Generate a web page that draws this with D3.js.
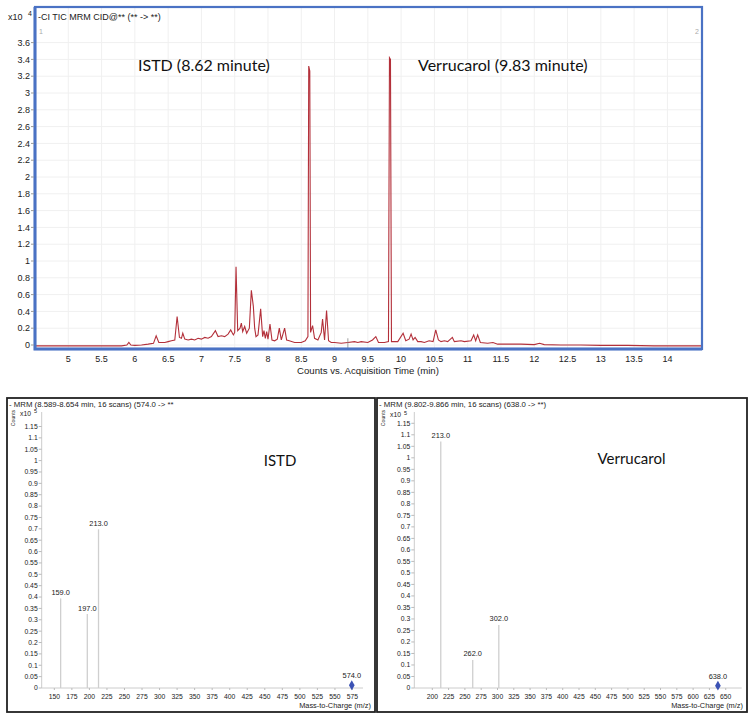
<!DOCTYPE html>
<html>
<head>
<meta charset="utf-8">
<script src="https://cdn.jsdelivr.net/npm/d3@7"></script>
<style>
  body { margin: 0; background: #fff; }
  text { font-family: "Liberation Sans", Arial, sans-serif; fill: #222; }
  .note { font-family: Lato, "Open Sans", sans-serif; fill: #111; }
</style>
</head>
<body>
<div id="chart"></div>
<script>
// TIC chromatogram, counts in x10^4
const ticTrace = [
  [4.50, -0.01], [5.80, -0.01], [5.88, 0.0], [5.91, 0.03], [5.94, 0.0], [6.00, -0.005],
  [6.10, 0.0], [6.20, 0.01], [6.28, 0.02], [6.32, 0.11], [6.36, 0.03], [6.45, 0.03],
  [6.50, 0.04], [6.55, 0.05], [6.60, 0.06], [6.635, 0.34], [6.67, 0.09], [6.70, 0.08],
  [6.72, 0.14], [6.75, 0.07], [6.80, 0.06], [6.85, 0.07], [6.90, 0.06], [6.95, 0.08],
  [7.00, 0.07], [7.05, 0.09], [7.10, 0.08], [7.15, 0.10], [7.21, 0.17], [7.25, 0.10],
  [7.30, 0.11], [7.35, 0.10], [7.40, 0.13], [7.44, 0.18], [7.48, 0.12], [7.50, 0.15],
  [7.52, 0.93], [7.545, 0.17], [7.58, 0.20], [7.60, 0.26], [7.62, 0.16], [7.65, 0.22],
  [7.68, 0.14], [7.72, 0.20], [7.75, 0.65], [7.78, 0.46], [7.80, 0.20], [7.82, 0.10],
  [7.85, 0.12], [7.89, 0.43], [7.92, 0.10], [7.94, 0.17], [7.96, 0.08], [7.98, 0.16],
  [8.00, 0.07], [8.03, 0.25], [8.06, 0.06], [8.10, 0.05], [8.14, 0.07], [8.17, 0.20],
  [8.20, 0.06], [8.25, 0.20], [8.28, 0.06], [8.32, 0.05], [8.40, 0.03], [8.50, 0.03],
  [8.56, 0.05], [8.60, 0.10], [8.612, 3.32], [8.628, 3.26], [8.64, 0.15], [8.67, 0.23],
  [8.70, 0.08], [8.75, 0.06], [8.80, 0.15], [8.82, 0.31], [8.85, 0.06], [8.88, 0.41],
  [8.91, 0.05], [8.95, 0.03], [9.00, 0.03], [9.10, 0.02], [9.20, 0.03], [9.30, 0.04],
  [9.35, 0.03], [9.40, 0.04], [9.50, 0.03], [9.57, 0.06], [9.62, 0.10], [9.66, 0.03],
  [9.75, 0.03], [9.81, 0.04], [9.825, 3.42], [9.84, 3.40], [9.855, 0.04], [9.95, 0.04],
  [10.03, 0.14], [10.07, 0.05], [10.12, 0.07], [10.15, 0.13], [10.18, 0.06], [10.21, 0.09],
  [10.25, 0.04], [10.30, 0.04], [10.35, 0.03], [10.42, 0.05], [10.48, 0.04], [10.52, 0.18],
  [10.56, 0.06], [10.60, 0.04], [10.65, 0.05], [10.70, 0.04], [10.77, 0.09], [10.80, 0.04],
  [10.90, 0.05], [10.95, 0.04], [11.05, 0.05], [11.09, 0.12], [11.12, 0.05], [11.15, 0.12],
  [11.19, 0.03], [11.30, 0.02], [11.38, 0.03], [11.45, 0.01], [11.60, 0.01], [11.80, 0.01],
  [12.00, 0.005], [12.08, 0.02], [12.15, 0.005], [12.40, 0.0], [12.70, 0.0], [13.00, -0.005],
  [13.40, -0.005], [13.80, -0.01], [14.52, -0.01]
];
const timeTicks = [5, 5.5, 6, 6.5, 7, 7.5, 8, 8.5, 9, 9.5, 10, 10.5, 11, 11.5, 12, 12.5, 13, 13.5, 14];
const countTicks = [0, 0.2, 0.4, 0.6, 0.8, 1, 1.2, 1.4, 1.6, 1.8, 2, 2.2, 2.4, 2.6, 2.8, 3, 3.2, 3.4, 3.6];

// product ion spectra, counts in x10^5
const istdMz = [159, 197, 213];
const istdCounts = [0.394, 0.325, 0.698];
const istdPrecursor = [574, 0.012];
const verMz = [213, 262, 302];
const verCounts = [1.071, 0.122, 0.274];
const verPrecursor = [638, 0.01];
const specCountTicks = [0, 0.05, 0.1, 0.15, 0.2, 0.25, 0.3, 0.35, 0.4, 0.45, 0.5, 0.55, 0.6,
  0.65, 0.7, 0.75, 0.8, 0.85, 0.9, 0.95, 1, 1.05, 1.1, 1.15];
const istdMzTicks = [150, 175, 200, 225, 250, 275, 300, 325, 350, 375, 400, 425, 450, 475, 500, 525, 550, 575];
const verMzTicks = [200, 225, 250, 275, 300, 325, 350, 375, 400, 425, 450, 475, 500, 525, 550, 575, 600, 625, 650];

const svg = d3.select("#chart").append("svg")
  .attr("width", 754)
  .attr("height", 720);

// ---------- top: chromatogram ----------
const frame = { left: 35, right: 702, top: 7, bottom: 349 };
const x = d3.scaleLinear().domain([4.5, 14.52]).range([frame.left, frame.right]);
const y = d3.scaleLinear().domain([0, 3.6]).range([345, 42.6]);

const topG = svg.append("g");

// faint grid
topG.selectAll(".vgrid").data(timeTicks).join("line")
  .attr("x1", d => x(d)).attr("x2", d => x(d))
  .attr("y1", frame.top).attr("y2", frame.bottom)
  .attr("stroke", "#f0f0f0");
topG.selectAll(".hgrid").data(countTicks).join("line")
  .attr("x1", frame.left).attr("x2", frame.right)
  .attr("y1", d => y(d)).attr("y2", d => y(d))
  .attr("stroke", "#f0f0f0");

// trace
topG.append("path")
  .datum(ticTrace)
  .attr("fill", "none")
  .attr("stroke", "#b3303a")
  .attr("stroke-width", 1.1)
  .attr("d", d3.line().x(d => x(d[0])).y(d => y(d[1])));

// small marker at 9.2 min
topG.append("line")
  .attr("x1", x(9.2)).attr("x2", x(9.2))
  .attr("y1", y(0.08)).attr("y2", y(-0.05))
  .attr("stroke", "#888").attr("stroke-width", 0.8);

// frame
topG.append("rect")
  .attr("x", frame.left).attr("y", frame.top)
  .attr("width", frame.right - frame.left).attr("height", frame.bottom - frame.top)
  .attr("fill", "none").attr("stroke", "#4a72c4").attr("stroke-width", 2.2);
topG.append("path")
  .attr("d", `M${frame.left},${frame.top}V${frame.bottom}H${frame.right}`)
  .attr("fill", "none").attr("stroke", "#4a72c4").attr("stroke-width", 3);

// y ticks
topG.selectAll(".ytick").data(countTicks).join("line")
  .attr("x1", frame.left - 4).attr("x2", frame.left - 1)
  .attr("y1", d => y(d)).attr("y2", d => y(d))
  .attr("stroke", "#999");
topG.selectAll(".ylab").data(countTicks).join("text")
  .attr("x", frame.left - 5).attr("y", d => y(d))
  .attr("dy", "0.35em").attr("text-anchor", "end")
  .attr("font-size", 9).text(d => String(d));

// x ticks
topG.selectAll(".xlab").data(timeTicks).join("text")
  .attr("x", d => x(d)).attr("y", 362)
  .attr("text-anchor", "middle")
  .attr("font-size", 9).text(d => String(d));

topG.append("text")
  .attr("x", 368).attr("y", 374).attr("text-anchor", "middle")
  .attr("font-size", 9.6).text("Counts vs. Acquisition Time (min)");

topG.append("text").attr("x", 8).attr("y", 20).attr("font-size", 9).text("x10");
topG.append("text").attr("x", 28).attr("y", 16).attr("font-size", 7).text("4");
topG.append("text").attr("x", 38).attr("y", 20).attr("font-size", 9).text("-CI TIC MRM CID@** (** -> **)");
topG.append("text").attr("x", 39).attr("y", 34).attr("font-size", 7).style("fill", "#aaa").text("1");
topG.append("text").attr("x", 695).attr("y", 34).attr("font-size", 7).style("fill", "#aaa").text("2");

topG.append("text").attr("class", "note")
  .attr("x", 138).attr("y", 71).attr("font-size", 16).text("ISTD (8.62 minute)");
topG.append("text").attr("class", "note")
  .attr("x", 418).attr("y", 71).attr("font-size", 16).text("Verrucarol (9.83 minute)");

// ---------- bottom: product ion spectra ----------
function drawSpectrum(cfg) {
  const g = svg.append("g");
  const sx = d3.scaleLinear().domain(cfg.mzDomain).range(cfg.xRange);
  const sy = d3.scaleLinear().domain([0, 1.15]).range([688, cfg.yTop]);
  const axisX = cfg.xRange[0];

  g.append("rect")
    .attr("x", cfg.box[0]).attr("y", cfg.box[1])
    .attr("width", cfg.box[2]).attr("height", cfg.box[3])
    .attr("fill", "none").attr("stroke", "#222").attr("stroke-width", 1.8);

  g.append("text").attr("x", cfg.box[0] + 2).attr("y", cfg.box[1] + 8.5)
    .attr("font-size", 7.8).text(cfg.title);

  g.append("text")
    .attr("transform", `translate(${cfg.box[0] + 7.5},${cfg.box[1] + 20}) rotate(-90)`)
    .attr("text-anchor", "middle").attr("font-size", 5.2).text("Counts");
  g.append("text").attr("x", cfg.box[0] + 13).attr("y", cfg.x10Y)
    .attr("font-size", 6.8).text("x10");
  g.append("text").attr("x", cfg.box[0] + 27).attr("y", cfg.x10Y - 2.5)
    .attr("font-size", 5.5).text("5");

  // axis lines
  g.append("line")
    .attr("x1", axisX).attr("x2", axisX)
    .attr("y1", sy(0)).attr("y2", 412)
    .attr("stroke", "#ccc");
  g.append("line")
    .attr("x1", axisX).attr("x2", cfg.xRange[1])
    .attr("y1", sy(0)).attr("y2", sy(0))
    .attr("stroke", "#ccc");

  g.selectAll(".yt").data(specCountTicks).join("line")
    .attr("x1", axisX - 3).attr("x2", axisX)
    .attr("y1", d => sy(d)).attr("y2", d => sy(d))
    .attr("stroke", "#bbb");
  g.selectAll(".yl").data(specCountTicks).join("text")
    .attr("x", axisX - 4).attr("y", d => sy(d))
    .attr("dy", "0.35em").attr("text-anchor", "end")
    .attr("font-size", 6.8).text(d => String(d));

  g.selectAll(".xt").data(cfg.mzTicks).join("line")
    .attr("x1", d => sx(d)).attr("x2", d => sx(d))
    .attr("y1", sy(0)).attr("y2", sy(0) + 2)
    .attr("stroke", "#bbb");
  g.selectAll(".xl").data(cfg.mzTicks).join("text")
    .attr("x", d => sx(d)).attr("y", 698.5)
    .attr("text-anchor", "middle")
    .attr("font-size", 6.8).text(d => String(d));

  g.append("text").attr("x", cfg.box[0] + cfg.box[2] - 4).attr("y", 707.5)
    .attr("text-anchor", "end").attr("font-size", 7.4).text("Mass-to-Charge (m/z)");

  const peaks = cfg.mz.map((m, i) => ({ mz: m, c: cfg.counts[i] }));
  g.selectAll(".stick").data(peaks).join("line")
    .attr("x1", d => sx(d.mz)).attr("x2", d => sx(d.mz))
    .attr("y1", sy(0)).attr("y2", d => sy(d.c))
    .attr("stroke", "#cfcfcf").attr("stroke-width", 1.3);
  g.selectAll(".plab").data(peaks).join("text")
    .attr("x", d => sx(d.mz)).attr("y", d => sy(d.c) - 3.5)
    .attr("text-anchor", "middle").attr("font-size", 7.4)
    .text(d => d.mz.toFixed(1));

  const [pm, pc] = cfg.precursor;
  g.append("path")
    .attr("transform", `translate(${sx(pm)},${sy(pc)})`)
    .attr("d", d3.symbol(d3.symbolDiamond, 28)())
    .attr("fill", "#3b52b4");
  g.append("text").attr("x", sx(pm)).attr("y", sy(pc) - 7)
    .attr("text-anchor", "middle").attr("font-size", 7.4).text(pm.toFixed(1));

  g.append("text").attr("class", "note")
    .attr("x", cfg.note[0]).attr("y", cfg.note[1])
    .attr("text-anchor", "middle").attr("font-size", 15).text(cfg.noteText);
}

drawSpectrum({
  box: [7, 398, 368, 314],
  title: "- MRM (8.589-8.654 min, 16 scans) (574.0 -> **",
  mzDomain: [132, 590], xRange: [41.7, 363], yTop: 426.5, x10Y: 415.5,
  mz: istdMz, counts: istdCounts, precursor: istdPrecursor, mzTicks: istdMzTicks,
  note: [280, 466], noteText: "ISTD"
});
drawSpectrum({
  box: [377, 398, 370, 314],
  title: "- MRM (9.802-9.866 min, 16 scans) (638.0 -> **)",
  mzDomain: [172.4, 674.5], xRange: [414.3, 741.7], yTop: 423.3, x10Y: 417,
  mz: verMz, counts: verCounts, precursor: verPrecursor, mzTicks: verMzTicks,
  note: [631.5, 464], noteText: "Verrucarol"
});
</script>
</body>
</html>
